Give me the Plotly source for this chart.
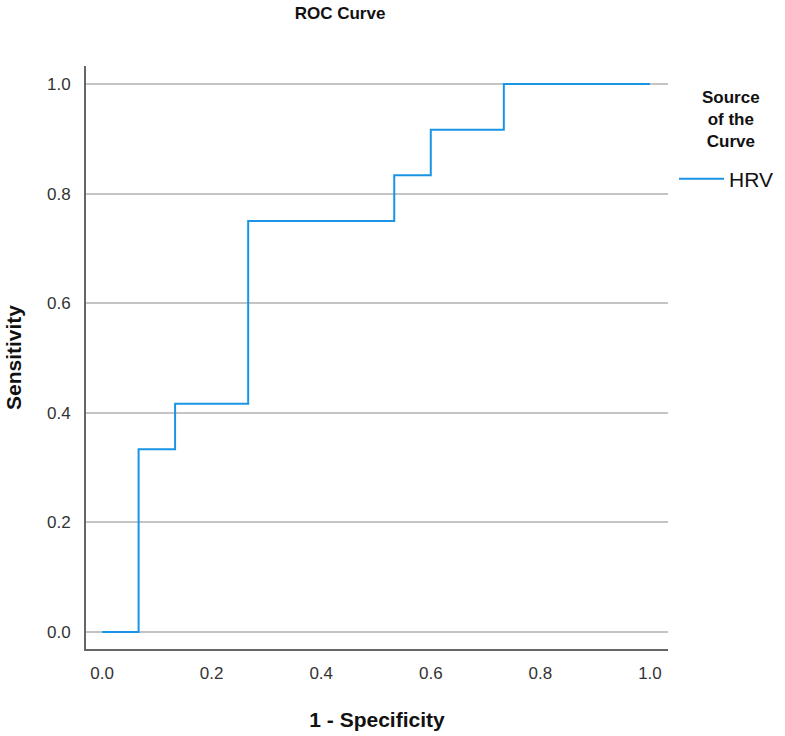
import plotly.graph_objects as go

# ROC coordinates (1 - specificity, sensitivity), step corners
fpr = [0.0, 0.0667, 0.1333, 0.2667, 0.5333, 0.6, 0.7333, 1.0]
tpr = [0.0, 0.3333, 0.4167, 0.75, 0.8333, 0.9167, 1.0, 1.0]
series_name = "HRV"
tick_vals = [0.0, 0.2, 0.4, 0.6, 0.8, 1.0]
tick_text = ["0.0", "0.2", "0.4", "0.6", "0.8", "1.0"]

W, H = 785, 736
L, R, T, B = 86, 117, 66, 87
PW, PH = W - L - R, H - T - B

fig = go.Figure()
fig.add_trace(go.Scatter(
    x=fpr, y=tpr, mode="lines", name=series_name,
    line=dict(color="#1a95e6", width=2, shape="hv"),
))

font_family = "Liberation Sans, Arial, sans-serif"
fig.update_layout(
    width=W, height=H,
    margin=dict(l=L, r=R, t=T, b=B, autoexpand=False),
    paper_bgcolor="white", plot_bgcolor="white",
    font=dict(family=font_family, color="#222222"),
    title=dict(text="<b>ROC Curve</b>", x=340 / W, xref="container",
               xanchor="center", y=1 - 13 / H, yanchor="middle",
               font=dict(size=17, color="#111111")),
    showlegend=True,
    legend=dict(
        x=(674 - L) / PW, xanchor="left",
        y=1 - (179 - T) / PH, yanchor="middle",
        font=dict(size=21, color="#111111"),
        bgcolor="rgba(0,0,0,0)",
        itemwidth=45,
    ),
    annotations=[dict(
        text="<b>Source<br>of the<br>Curve</b>", showarrow=False,
        xref="paper", yref="paper",
        x=(731 - L) / PW, xanchor="center",
        y=1 - (119 - T) / PH, yanchor="middle",
        align="center", font=dict(size=17, color="#111111"),
    )],
    xaxis=dict(
        range=[-16 / 546, 1 + 18 / 546],
        tickvals=tick_vals, ticktext=tick_text,
        showgrid=False, zeroline=False,
        showline=True, linecolor="#666666", linewidth=2,
        ticks="", ticklabelstandoff=8,
        tickfont=dict(size=17, color="#333333"),
        title=dict(text="<b>1 - Specificity</b>", font=dict(size=21, color="#111111"), standoff=30),
    ),
    yaxis=dict(
        range=[-17 / 548, 1 + 18 / 548],
        tickvals=tick_vals, ticktext=tick_text,
        showgrid=True, gridcolor="#c4c4c4", gridwidth=2,
        zeroline=False,
        showline=True, linecolor="#666666", linewidth=2,
        ticks="", ticklabelstandoff=10,
        tickfont=dict(size=17, color="#333333"),
        title=dict(text="<b>Sensitivity</b>", font=dict(size=21, color="#111111"), standoff=20),
    ),
)

fig.write_html("out.html")
